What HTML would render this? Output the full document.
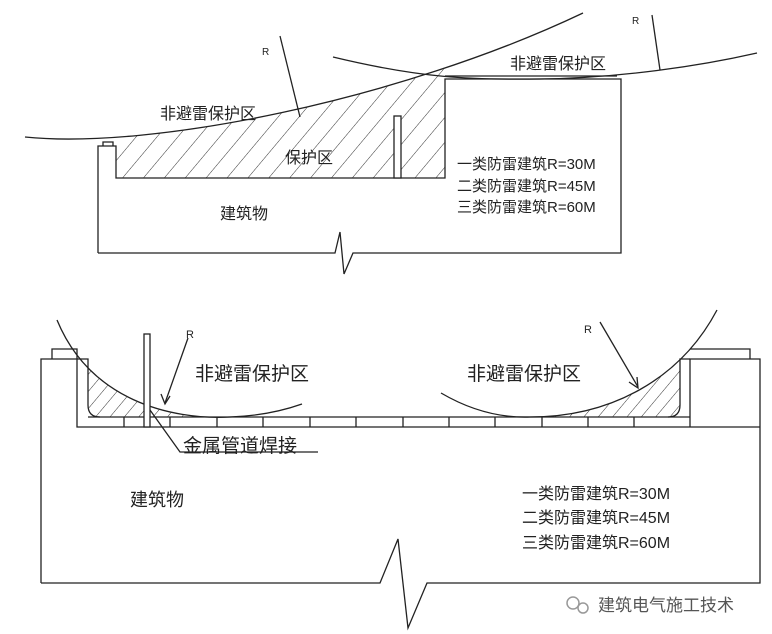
<!DOCTYPE html>
<html><head><meta charset="utf-8"><style>
html,body{margin:0;padding:0;background:#fff;}
svg{display:block;}
text{font-family:"Liberation Sans","Noto Sans CJK SC",sans-serif;fill:#222;}
</style></head><body>
<svg width="772" height="634" viewBox="0 0 772 634" xmlns="http://www.w3.org/2000/svg">
<defs>
<pattern id="h" width="16" height="16" patternUnits="userSpaceOnUse" patternTransform="rotate(40)">
<line x1="0" y1="0" x2="0" y2="16" stroke="#333" stroke-width="1"/>
</pattern>
<pattern id="h2" width="11" height="11" patternUnits="userSpaceOnUse" patternTransform="rotate(40)">
<line x1="0" y1="0" x2="0" y2="11" stroke="#333" stroke-width="1"/>
</pattern>
<clipPath id="c1"><path d="M25,137 C150,150 400,100 583,13 L583,178 L25,178 Z"/></clipPath>
<clipPath id="c2"><path d="M57,320 C90,400 170,420 230,417 L230,417 L57,417 Z"/></clipPath>
<clipPath id="c3"><path d="M530,417 C610,417 680,380 717,310 L717,417 Z"/></clipPath>
</defs>
<g fill="none" stroke="#222" stroke-width="1.3">
<!-- TOP -->
<rect x="116" y="0" width="329" height="178" fill="url(#h)" stroke="none" clip-path="url(#c1)"/>
<path d="M25,137 C150,150 400,100 583,13"/>
<path d="M333,57 C420,78 470,80 540,79 C620,78 700,66 757,53"/>
<path d="M98,253 L98,146 L116,146 L116,178 L445,178 L445,79 L621,79 L621,253 L353,253 L344,274 L340,232 L335,253 L98,253"/>
<path d="M103,146 L103,142 L113,142 L113,146"/>
<line x1="445" y1="76" x2="617" y2="76"/>
<rect x="394" y="116" width="7" height="62" fill="#fff"/>
<line x1="280" y1="36" x2="300" y2="117"/>
<line x1="652" y1="15" x2="660" y2="70"/>
<!-- BOTTOM -->
<rect x="88" y="300" width="150" height="117" fill="url(#h2)" stroke="none" clip-path="url(#c2)"/>
<rect x="530" y="300" width="150" height="117" fill="url(#h2)" stroke="none" clip-path="url(#c3)"/>
<path d="M57,320 C90,400 170,420 230,417 C260,416 285,410 302,404"/>
<path d="M441,393 C470,410 500,418 530,417 C610,417 680,380 717,310"/>
<path d="M41,583 L41,359 L77,359 L77,427 L760,427 M690,427 L690,359 L760,359 L760,583 L427,583 L408,628 L398,539 L380,583 L41,583"/>
<path d="M52,359 L52,349 L77,349 L77,359 M690,349 L750,349 L750,359"/>
<path d="M77,359 L88,359 L88,405 Q88,417 100,417 M690,359 L680,359 L680,405 Q680,417 668,417"/>
<line x1="88" y1="417" x2="690" y2="417"/>
<g>
<line x1="124" y1="417" x2="124" y2="427"/><line x1="170" y1="417" x2="170" y2="427"/>
<line x1="217" y1="417" x2="217" y2="427"/><line x1="263" y1="417" x2="263" y2="427"/>
<line x1="310" y1="417" x2="310" y2="427"/><line x1="356" y1="417" x2="356" y2="427"/>
<line x1="403" y1="417" x2="403" y2="427"/><line x1="449" y1="417" x2="449" y2="427"/>
<line x1="495" y1="417" x2="495" y2="427"/><line x1="542" y1="417" x2="542" y2="427"/>
<line x1="588" y1="417" x2="588" y2="427"/><line x1="634" y1="417" x2="634" y2="427"/>
</g>
<rect x="144" y="334" width="6" height="93" fill="#fff"/>
<line x1="188" y1="338" x2="165" y2="403"/>
<path d="M161,394 L165,404 L170,396" />
<line x1="600" y1="322" x2="638" y2="387"/>
<path d="M629,382 L638,388 L637,377"/>
<path d="M150,410 L180,452 L318,452"/>
</g>
<g font-size="16">
<text x="160" y="119">非避雷保护区</text>
<text x="510" y="69">非避雷保护区</text>
<text x="285" y="163">保护区</text>
<text x="220" y="219">建筑物</text>
<text x="457" y="169" font-size="15">一类防雷建筑R=30M</text>
<text x="457" y="191" font-size="15">二类防雷建筑R=45M</text>
<text x="457" y="212" font-size="15">三类防雷建筑R=60M</text>
<text x="262" y="55" font-size="10">R</text>
<text x="632" y="24" font-size="10">R</text>
</g>
<g font-size="19">
<text x="195" y="380">非避雷保护区</text>
<text x="467" y="380">非避雷保护区</text>
<text x="183" y="452">金属管道焊接</text>
<text x="130" y="506" font-size="18">建筑物</text>
<text x="522" y="499" font-size="16">一类防雷建筑R=30M</text>
<text x="522" y="523" font-size="16">二类防雷建筑R=45M</text>
<text x="522" y="548" font-size="16">三类防雷建筑R=60M</text>
<text x="186" y="338" font-size="11">R</text>
<text x="584" y="333" font-size="11">R</text>
</g>
<circle cx="573" cy="603" r="6" fill="none" stroke="#999" stroke-width="1.5"/>
<circle cx="583" cy="608" r="5" fill="none" stroke="#999" stroke-width="1.5"/>
<text x="598" y="611" font-size="17" style="fill:#555">建筑电气施工技术</text>
</svg>
</body></html>
